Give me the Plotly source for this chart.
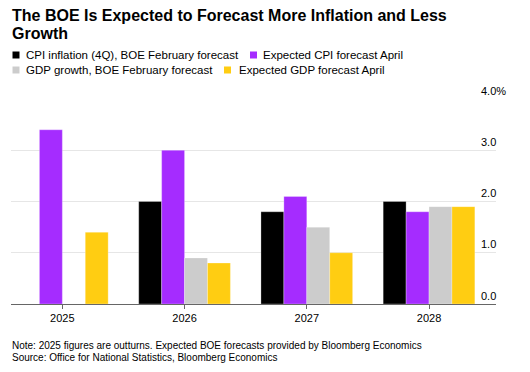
import plotly.graph_objects as go

years = ["2025", "2026", "2027", "2028"]
cpi_feb = [None, 2.0, 1.8, 2.0]
cpi_apr = [3.4, 3.0, 2.1, 1.8]
gdp_feb = [None, 0.9, 1.5, 1.9]
gdp_apr = [1.4, 0.8, 1.0, 1.9]
series_names = ["CPI inflation (4Q), BOE February forecast", "Expected CPI forecast April",
                "GDP growth, BOE February forecast", "Expected GDP forecast April"]
colors = ["#000000", "#a52cff", "#cccccc", "#ffcd12"]
y_ticks = [0, 1, 2, 3, 4]
y_tick_labels = ["0.0", "1.0", "2.0", "3.0", "4.0%"]
title_lines = ["The BOE Is Expected to Forecast More Inflation and Less", "Growth"]
notes = ["Note: 2025 figures are outturns. Expected BOE forecasts provided by Bloomberg Economics",
         "Source: Office for National Statistics, Bloomberg Economics"]

# page has an 8px body margin; figure is shifted by OFF
OFF = 8
W, H = 530 - OFF, 372 - OFF
PLOT_L, PLOT_R, PLOT_T, PLOT_B = 11, 496, 99, 304   # in page pixels
L, R = PLOT_L - OFF, W - (PLOT_R - OFF)
T, B = PLOT_T - OFF, H - (PLOT_B - OFF)
PW, PH = W - L - R, H - T - B
FONT = "Liberation Sans, Arial, sans-serif"


def px(x):
    return (x - OFF - L) / PW


def py(y):
    return (H - B - (y - OFF)) / PH


fig = go.Figure()
for name, vals, col in zip(series_names, [cpi_feb, cpi_apr, gdp_feb, gdp_apr], colors):
    fig.add_trace(go.Bar(x=years, y=vals, name=name, marker_color=col,
                         marker_line=dict(width=0.8, color="rgba(255,255,255,0.35)"),
                         showlegend=False))

fig.update_layout(
    width=W, height=H,
    margin=dict(l=L, r=R, t=T, b=B),
    paper_bgcolor="white", plot_bgcolor="white",
    barmode="group", bargap=0.25, bargroupgap=0,
    font=dict(family=FONT, size=11, color="#000"),
    xaxis=dict(range=[-0.42, 3.548], showgrid=False, showline=True, linecolor="#666",
               linewidth=1, ticks="outside", ticklen=4, tickcolor="#666",
               tickfont=dict(size=11, color="#000"), fixedrange=True),
    yaxis=dict(range=[0, 4.0001], tickvals=y_ticks, showticklabels=False,
               gridcolor="#e6e6e6", gridwidth=1, zeroline=False, fixedrange=True),
)

# title, one annotation per line
for i, line in enumerate(title_lines):
    fig.add_annotation(x=px(11.5), y=py(15 + 19 * i), xref="paper", yref="paper",
                       text="<b>" + line + "</b>", showarrow=False,
                       xanchor="left", yanchor="middle", borderpad=0, borderwidth=0,
                       font=dict(size=16, color="#000"))

# y tick labels placed above gridlines on the right
for v, lab in zip(y_ticks, y_tick_labels):
    fig.add_annotation(x=px(481), xref="paper", y=v, yref="y", text=lab,
                       showarrow=False, xanchor="left", yanchor="bottom",
                       borderpad=0, borderwidth=0, yshift=2.5,
                       font=dict(size=11, color="#000"))

# legend (manual, to match flowing layout)
legend_items = [
    (12.5, 55, 26, series_names[0], colors[0]),
    (250, 55, 263, series_names[1], colors[1]),
    (12.5, 70, 26, series_names[2], colors[2]),
    (224, 70, 238.5, series_names[3], colors[3]),
]
for sx, cy, tx, name, col in legend_items:
    fig.add_shape(type="rect", xref="paper", yref="paper",
                  x0=px(sx), x1=px(sx + 7), y0=py(cy + 3.5), y1=py(cy - 3.5),
                  fillcolor=col, line=dict(width=0))
    fig.add_annotation(x=px(tx), y=py(cy), xref="paper", yref="paper", text=name,
                       showarrow=False, xanchor="left", yanchor="middle",
                       borderpad=0, borderwidth=0,
                       font=dict(size=11.5, color="#000"))

for i, n in enumerate(notes):
    fig.add_annotation(x=px(11.5), y=py(345.5 + 12 * i), xref="paper", yref="paper", text=n,
                       showarrow=False, xanchor="left", yanchor="middle",
                       borderpad=0, borderwidth=0,
                       font=dict(size=10, color="#000"))

fig.write_html("out.html")
